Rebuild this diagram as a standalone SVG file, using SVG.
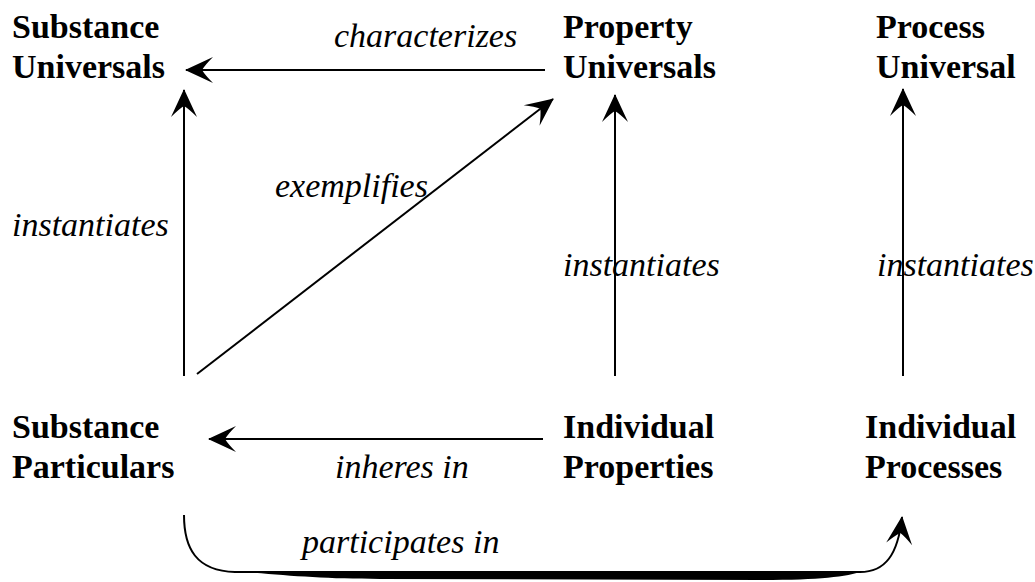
<svg xmlns="http://www.w3.org/2000/svg" width="1035" height="582" viewBox="0 0 1035 582">
<style>
.node{font-family:"Liberation Serif","Times New Roman",serif;font-size:34px;font-weight:bold;fill:#000}
.lbl{font-family:"Liberation Serif","Times New Roman",serif;font-size:34px;font-style:italic;fill:#000}
.edge{stroke:#000;stroke-width:2;fill:none;marker-end:url(#ah)}
</style>
<defs>
<marker id="ah" markerUnits="userSpaceOnUse" viewBox="-30 -15 32 30" markerWidth="32" markerHeight="30" refX="0" refY="0" orient="auto">
<path d="M1,0 Q-12,-6 -27,-13 Q-19,-5 -16,0 Q-19,5 -27,13 Q-12,6 1,0 Z" fill="#000"/>
</marker>
</defs>
<rect width="1035" height="582" fill="#fff"/>
<g id="connectors">
<line class="edge" x1="545" y1="70" x2="186" y2="70"/>
<line class="edge" x1="184" y1="376" x2="184" y2="90"/>
<line class="edge" x1="197" y1="374" x2="553" y2="99"/>
<line class="edge" x1="615" y1="376" x2="615" y2="95"/>
<line class="edge" x1="903" y1="376" x2="903" y2="89"/>
<line class="edge" x1="543" y1="439" x2="209" y2="439"/>
<path class="edge" d="M184,515 C184,548 196,571 235,572 L860,572 C885,572 898,555 902,517"/>
<path d="M232,571 C280,575 320,579 380,579 L760,580 C820,580 845,577 864,571 Z" fill="#000"/>
<text class="lbl" x="334" y="47">characterizes</text>
<text class="lbl" x="12" y="236">instantiates</text>
<text class="lbl" x="275" y="197">exemplifies</text>
<text class="lbl" x="563" y="276">instantiates</text>
<text class="lbl" x="877" y="276">instantiates</text>
<text class="lbl" x="335" y="478">inheres in</text>
<text class="lbl" x="302" y="553">participates in</text>
</g>
<g id="substance-universals"><text class="node" x="12" y="38">Substance</text><text class="node" x="12" y="78">Universals</text></g>
<g id="property-universals"><text class="node" x="563" y="38">Property</text><text class="node" x="563" y="78">Universals</text></g>
<g id="process-universal"><text class="node" x="876" y="38">Process</text><text class="node" x="876" y="78">Universal</text></g>
<g id="substance-particulars"><text class="node" x="12" y="438">Substance</text><text class="node" x="12" y="478">Particulars</text></g>
<g id="individual-properties"><text class="node" x="563" y="438">Individual</text><text class="node" x="563" y="478">Properties</text></g>
<g id="individual-processes"><text class="node" x="865" y="438">Individual</text><text class="node" x="865" y="478">Processes</text></g>
</svg>
